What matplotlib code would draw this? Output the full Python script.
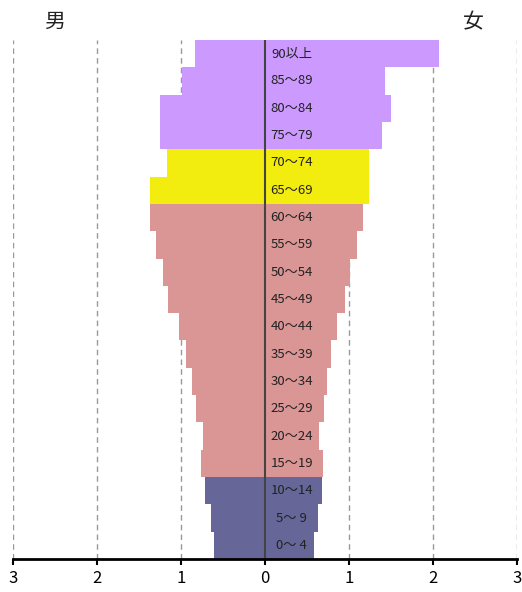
import matplotlib
matplotlib.use("Agg")
import matplotlib.pyplot as plt

plt.rcParams["font.family"] = ["Noto Sans CJK JP", "DejaVu Sans"]

# age groups from youngest to oldest
age_labels = ["0～ 4", "5～ 9", "10～14", "15～19", "20～24", "25～29", "30～34",
              "35～39", "40～44", "45～49", "50～54", "55～59", "60～64",
              "65～69", "70～74", "75～79", "80～84", "85～89", "90以上"]
male = [0.61, 0.64, 0.71, 0.76, 0.74, 0.82, 0.87, 0.94, 1.02, 1.15,
        1.21, 1.30, 1.37, 1.37, 1.17, 1.25, 1.25, 0.99, 0.83]
female = [0.58, 0.63, 0.68, 0.69, 0.64, 0.70, 0.74, 0.79, 0.86, 0.95,
          1.01, 1.10, 1.17, 1.24, 1.24, 1.39, 1.50, 1.43, 2.07]
group = ["young"] * 3 + ["work"] * 10 + ["old"] * 2 + ["elder"] * 4
xticks = [-3, -2, -1, 0, 1, 2, 3]
xtick_labels = ["3", "2", "1", "0", "1", "2", "3"]

colors = {"young": "#666699", "work": "#da9595", "old": "#f3ec0f", "elder": "#cc99ff"}

fig = plt.figure(figsize=(5.22, 5.92), dpi=100)
ax = fig.add_axes([13 / 522, 1 - 559 / 592, 504 / 522, 519 / 592])

ypos = list(range(len(age_labels)))
bar_colors = [colors[g] for g in group]
ax.barh(ypos, [-m for m in male], height=1.0, color=bar_colors, zorder=2)
ax.barh(ypos, female, height=1.0, color=bar_colors, zorder=2)

for x in [-3, -2, -1, 1, 2, 3]:
    ax.axvline(x, color="#999999", lw=1, ls=(0, (4, 3)), zorder=1)
ax.axvline(0, color="#444444", lw=1.5, zorder=3)

for y, lab in zip(ypos, age_labels):
    ax.text(0.32, y, lab, ha="center", va="center", fontsize=9.5, color="#222222", zorder=4)

ax.set_xlim(-3, 3)
ax.set_ylim(-0.5, len(age_labels) - 0.5)
ax.set_xticks(xticks)
ax.set_xticklabels(xtick_labels, fontsize=12)
ax.set_yticks([])
for side in ["top", "left", "right"]:
    ax.spines[side].set_visible(False)
ax.spines["bottom"].set_linewidth(2)
ax.spines["bottom"].set_zorder(5)
ax.tick_params(axis="x", length=4, width=1.5, pad=4)

fig.text(55 / 522, 1 - 22 / 592, "男", ha="center", va="center", fontsize=15, color="#222222")
fig.text(473 / 522, 1 - 22 / 592, "女", ha="center", va="center", fontsize=15, color="#222222")

fig.savefig("out.png", dpi=100)
